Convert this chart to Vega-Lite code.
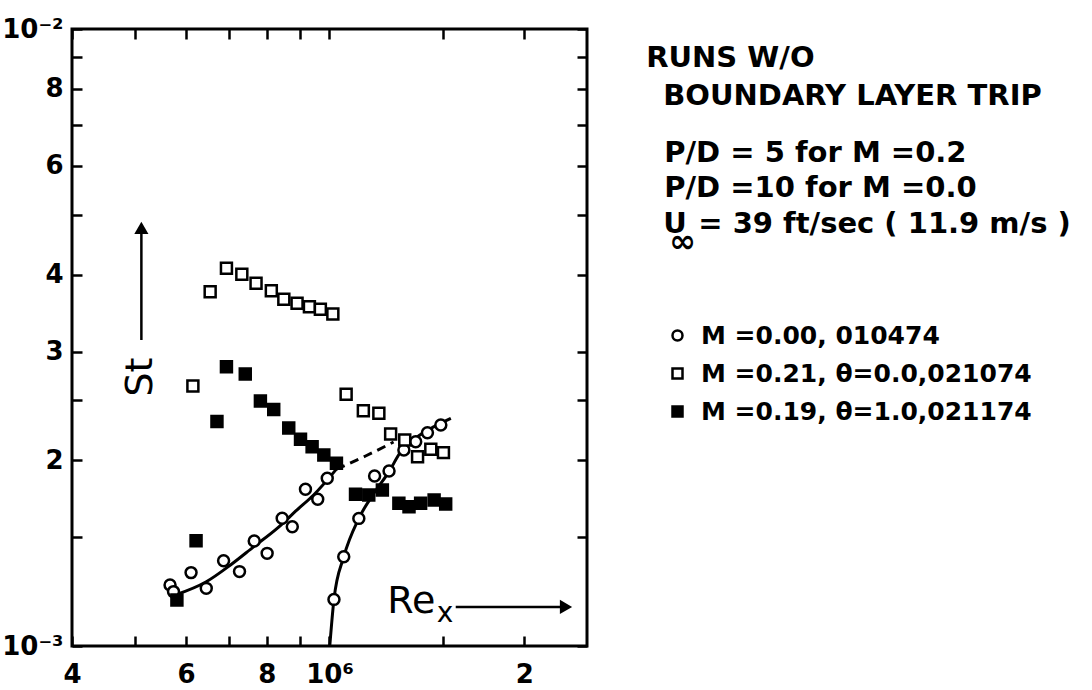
{
  "$schema": "https://vega.github.io/schema/vega-lite/v6.json",
  "width": 515,
  "height": 617,
  "autosize": {"type": "none"},
  "padding": {"left": 72, "top": 29, "right": 505, "bottom": 44},
  "background": "white",
  "config": {
    "view": {"stroke": "black", "strokeWidth": 3, "fill": "white"},
    "font": "DejaVu Sans",
    "axis": {
      "domain": false, "grid": false, "ticks": true,
      "tickColor": "black", "tickWidth": 2.5, "tickSize": -10,
      "labelColor": "black", "labelFont": "DejaVu Sans", "labelFontWeight": "bold", "labelFontSize": 26,
      "labelFlush": false, "labelOverlap": false, "labelBound": false
    },
    "legend": {
      "orient": "none", "legendX": 593, "legendY": 294, "title": null, "padding": 0,
      "labelFont": "DejaVu Sans", "labelFontWeight": "bold", "labelFontSize": 25, "labelColor": "black",
      "labelOffset": 11, "labelLimit": 0, "symbolSize": 100, "symbolStrokeWidth": 2.5, "rowPadding": 12
    }
  },
  "datasets": {
    "pts": [
      {"Re": 567000, "St": 0.001256, "series": "M =0.00, 010474"},
      {"Re": 574000, "St": 0.001225, "series": "M =0.00, 010474"},
      {"Re": 611000, "St": 0.001315, "series": "M =0.00, 010474"},
      {"Re": 645000, "St": 0.00124, "series": "M =0.00, 010474"},
      {"Re": 686000, "St": 0.001375, "series": "M =0.00, 010474"},
      {"Re": 726000, "St": 0.00132, "series": "M =0.00, 010474"},
      {"Re": 765000, "St": 0.00148, "series": "M =0.00, 010474"},
      {"Re": 801000, "St": 0.001413, "series": "M =0.00, 010474"},
      {"Re": 845000, "St": 0.001611, "series": "M =0.00, 010474"},
      {"Re": 876000, "St": 0.001561, "series": "M =0.00, 010474"},
      {"Re": 918000, "St": 0.001795, "series": "M =0.00, 010474"},
      {"Re": 959000, "St": 0.001729, "series": "M =0.00, 010474"},
      {"Re": 992000, "St": 0.00187, "series": "M =0.00, 010474"},
      {"Re": 1016000, "St": 0.00119, "series": "M =0.00, 010474"},
      {"Re": 1052000, "St": 0.001395, "series": "M =0.00, 010474"},
      {"Re": 1110000, "St": 0.00161, "series": "M =0.00, 010474"},
      {"Re": 1174000, "St": 0.001886, "series": "M =0.00, 010474"},
      {"Re": 1236000, "St": 0.001921, "series": "M =0.00, 010474"},
      {"Re": 1303000, "St": 0.002078, "series": "M =0.00, 010474"},
      {"Re": 1359000, "St": 0.002143, "series": "M =0.00, 010474"},
      {"Re": 1417000, "St": 0.002217, "series": "M =0.00, 010474"},
      {"Re": 1486000, "St": 0.002281, "series": "M =0.00, 010474"},
      {"Re": 615000, "St": 0.002638, "series": "M =0.21, θ=0.0,021074"},
      {"Re": 654000, "St": 0.003752, "series": "M =0.21, θ=0.0,021074"},
      {"Re": 693000, "St": 0.004095, "series": "M =0.21, θ=0.0,021074"},
      {"Re": 732000, "St": 0.004004, "series": "M =0.21, θ=0.0,021074"},
      {"Re": 770000, "St": 0.003872, "series": "M =0.21, θ=0.0,021074"},
      {"Re": 813000, "St": 0.003766, "series": "M =0.21, θ=0.0,021074"},
      {"Re": 850000, "St": 0.003647, "series": "M =0.21, θ=0.0,021074"},
      {"Re": 891000, "St": 0.003593, "series": "M =0.21, θ=0.0,021074"},
      {"Re": 931000, "St": 0.003548, "series": "M =0.21, θ=0.0,021074"},
      {"Re": 968000, "St": 0.003513, "series": "M =0.21, θ=0.0,021074"},
      {"Re": 1012000, "St": 0.003452, "series": "M =0.21, θ=0.0,021074"},
      {"Re": 1061000, "St": 0.002558, "series": "M =0.21, θ=0.0,021074"},
      {"Re": 1128000, "St": 0.002406, "series": "M =0.21, θ=0.0,021074"},
      {"Re": 1192000, "St": 0.002383, "series": "M =0.21, θ=0.0,021074"},
      {"Re": 1243000, "St": 0.002206, "series": "M =0.21, θ=0.0,021074"},
      {"Re": 1307000, "St": 0.002157, "series": "M =0.21, θ=0.0,021074"},
      {"Re": 1368000, "St": 0.002027, "series": "M =0.21, θ=0.0,021074"},
      {"Re": 1434000, "St": 0.002084, "series": "M =0.21, θ=0.0,021074"},
      {"Re": 1500000, "St": 0.002058, "series": "M =0.21, θ=0.0,021074"},
      {"Re": 581000, "St": 0.001187, "series": "M =0.19, θ=1.0,021174"},
      {"Re": 622000, "St": 0.001481, "series": "M =0.19, θ=1.0,021174"},
      {"Re": 670000, "St": 0.002312, "series": "M =0.19, θ=1.0,021174"},
      {"Re": 693000, "St": 0.002836, "series": "M =0.19, θ=1.0,021174"},
      {"Re": 741000, "St": 0.00276, "series": "M =0.19, θ=1.0,021174"},
      {"Re": 782000, "St": 0.002495, "series": "M =0.19, θ=1.0,021174"},
      {"Re": 820000, "St": 0.002417, "series": "M =0.19, θ=1.0,021174"},
      {"Re": 865000, "St": 0.002256, "series": "M =0.19, θ=1.0,021174"},
      {"Re": 902000, "St": 0.002163, "series": "M =0.19, θ=1.0,021174"},
      {"Re": 940000, "St": 0.002104, "series": "M =0.19, θ=1.0,021174"},
      {"Re": 980000, "St": 0.00204, "series": "M =0.19, θ=1.0,021174"},
      {"Re": 1025000, "St": 0.001978, "series": "M =0.19, θ=1.0,021174"},
      {"Re": 1097000, "St": 0.001762, "series": "M =0.19, θ=1.0,021174"},
      {"Re": 1150000, "St": 0.001757, "series": "M =0.19, θ=1.0,021174"},
      {"Re": 1207000, "St": 0.00179, "series": "M =0.19, θ=1.0,021174"},
      {"Re": 1280000, "St": 0.001703, "series": "M =0.19, θ=1.0,021174"},
      {"Re": 1327000, "St": 0.001682, "series": "M =0.19, θ=1.0,021174"},
      {"Re": 1383000, "St": 0.001703, "series": "M =0.19, θ=1.0,021174"},
      {"Re": 1451000, "St": 0.001724, "series": "M =0.19, θ=1.0,021174"},
      {"Re": 1512000, "St": 0.001699, "series": "M =0.19, θ=1.0,021174"}
    ],
    "curves": [
      {"curve": "laminar fit", "ord": 1, "Re": 578000, "St": 0.00121},
      {"curve": "laminar fit", "ord": 2, "Re": 645000, "St": 0.001271},
      {"curve": "laminar fit", "ord": 3, "Re": 703000, "St": 0.001353},
      {"curve": "laminar fit", "ord": 4, "Re": 764000, "St": 0.001449},
      {"curve": "laminar fit", "ord": 5, "Re": 830000, "St": 0.001551},
      {"curve": "laminar fit", "ord": 6, "Re": 891000, "St": 0.001662},
      {"curve": "laminar fit", "ord": 7, "Re": 945000, "St": 0.001757},
      {"curve": "laminar fit", "ord": 8, "Re": 1025000, "St": 0.001935},
      {"curve": "laminar extrapolation", "ord": 1, "Re": 1025000, "St": 0.001935},
      {"curve": "laminar extrapolation", "ord": 2, "Re": 1137000, "St": 0.002032},
      {"curve": "laminar extrapolation", "ord": 3, "Re": 1256000, "St": 0.002141},
      {"curve": "transition fit", "ord": 1, "Re": 1001000, "St": 0.001},
      {"curve": "transition fit", "ord": 2, "Re": 1016000, "St": 0.00119},
      {"curve": "transition fit", "ord": 3, "Re": 1052000, "St": 0.001395},
      {"curve": "transition fit", "ord": 4, "Re": 1110000, "St": 0.00161},
      {"curve": "transition fit", "ord": 5, "Re": 1171000, "St": 0.001768},
      {"curve": "transition fit", "ord": 6, "Re": 1236000, "St": 0.001917},
      {"curve": "transition fit", "ord": 7, "Re": 1288000, "St": 0.002063},
      {"curve": "transition fit", "ord": 8, "Re": 1368000, "St": 0.002184},
      {"curve": "transition fit", "ord": 9, "Re": 1451000, "St": 0.002267},
      {"curve": "transition fit", "ord": 10, "Re": 1540000, "St": 0.002339}
    ],
    "arrows": [
      {"arrow": "Re", "Re": 1567000, "St": 0.001157, "Re2": 2279000, "St2": 0.001157},
      {"arrow": "St", "Re": 512000, "St": 0.003133, "Re2": 512000, "St2": 0.004688}
    ],
    "heads": [
      {"arrow": "Re", "Re": 2320000, "St": 0.001157},
      {"arrow": "St", "Re": 512000, "St": 0.00476}
    ],
    "notes": [
      {"Re": 3086000, "St": 0.008687, "label": "RUNS W/O"},
      {"Re": 3279000, "St": 0.00753, "label": "BOUNDARY LAYER TRIP"},
      {"Re": 3291000, "St": 0.006094, "label": "P/D = 5  for M =0.2"},
      {"Re": 3291000, "St": 0.005349, "label": "P/D =10  for M =0.0"},
      {"Re": 3279000, "St": 0.004666, "label": "U"},
      {"Re": 3714000, "St": 0.004666, "label": "= 39 ft/sec ( 11.9 m/s )"}
    ],
    "annot": [
      {"label": "∞", "Re": 3350000, "St": 0.004351},
      {"label": "St", "Re": 512000, "St": 0.002729},
      {"label": "Re", "Re": 1228000, "St": 0.001131},
      {"label": "x", "Re": 1465000, "St": 0.001094}
    ]
  },
  "layer": [
    {
      "data": {"name": "curves"},
      "transform": [{"filter": "datum.curve != 'laminar extrapolation'"}],
      "mark": {"type": "line", "color": "black", "strokeWidth": 3, "interpolate": "monotone"},
      "encoding": {
        "x": {"field": "Re", "type": "quantitative",
              "scale": {"type": "log", "domain": [400000, 2500000], "nice": false},
              "axis": {"orient": "top", "title": null, "labels": false,
                       "values": [400000, 500000, 600000, 700000, 800000, 900000, 1000000, 1500000, 2000000]}},
        "y": {"field": "St", "type": "quantitative",
              "scale": {"type": "log", "domain": [0.001, 0.01], "nice": false},
              "axis": {"orient": "right", "title": null, "labels": false,
                       "values": [0.001, 0.0015, 0.002, 0.0025, 0.003, 0.004, 0.005, 0.006, 0.007, 0.008, 0.009, 0.01]}},
        "detail": {"field": "curve"},
        "order": {"field": "ord"}
      }
    },
    {
      "data": {"name": "curves"},
      "transform": [{"filter": "datum.curve == 'laminar extrapolation'"}],
      "mark": {"type": "line", "color": "black", "strokeWidth": 3, "strokeDash": [9, 6], "interpolate": "monotone"},
      "encoding": {
        "x": {"field": "Re", "type": "quantitative", "axis": null},
        "y": {"field": "St", "type": "quantitative", "axis": null},
        "order": {"field": "ord"}
      }
    },
    {
      "data": {"name": "pts"},
      "mark": {"type": "point", "filled": true, "strokeWidth": 2.5, "size": 120, "opacity": 1},
      "encoding": {
        "x": {"field": "Re", "type": "quantitative",
              "axis": {"orient": "bottom", "title": null, "labelPadding": 25, "labelBaseline": "top",
                       "values": [400000, 500000, 600000, 700000, 800000, 900000, 1000000, 1500000, 2000000],
                       "labelExpr": "datum.value == 400000 ? '4' : datum.value == 600000 ? '6' : datum.value == 800000 ? '8' : datum.value == 1000000 ? '10⁶' : datum.value == 2000000 ? '2' : ''"}},
        "y": {"field": "St", "type": "quantitative",
              "axis": {"orient": "left", "title": null, "labelPadding": 19,
                       "values": [0.001, 0.0015, 0.002, 0.0025, 0.003, 0.004, 0.005, 0.006, 0.007, 0.008, 0.009, 0.01],
                       "labelExpr": "datum.value == 0.001 ? '10⁻³' : datum.value == 0.002 ? '2' : datum.value == 0.003 ? '3' : datum.value == 0.004 ? '4' : datum.value == 0.006 ? '6' : datum.value == 0.008 ? '8' : datum.value == 0.01 ? '10⁻²' : ''"}},
        "shape": {"field": "series", "type": "nominal", "title": null,
                  "scale": {"domain": ["M =0.00, 010474", "M =0.21, θ=0.0,021074", "M =0.19, θ=1.0,021174"], "range": ["circle", "square", "square"]}},
        "fill": {"field": "series", "type": "nominal", "title": null,
                 "scale": {"domain": ["M =0.00, 010474", "M =0.21, θ=0.0,021074", "M =0.19, θ=1.0,021174"], "range": ["white", "white", "black"]}},
        "stroke": {"field": "series", "type": "nominal", "title": null,
                   "scale": {"domain": ["M =0.00, 010474", "M =0.21, θ=0.0,021074", "M =0.19, θ=1.0,021174"], "range": ["black", "black", "black"]}}
      }
    },
    {
      "data": {"name": "arrows"},
      "mark": {"type": "rule", "color": "black", "strokeWidth": 2.5},
      "encoding": {
        "x": {"field": "Re", "type": "quantitative", "axis": null},
        "x2": {"field": "Re2"},
        "y": {"field": "St", "type": "quantitative", "axis": null},
        "y2": {"field": "St2"}
      }
    },
    {
      "data": {"name": "heads"},
      "transform": [{"filter": "datum.arrow == 'Re'"}],
      "mark": {"type": "point", "shape": "triangle-right", "filled": true, "color": "black", "size": 200, "opacity": 1},
      "encoding": {
        "x": {"field": "Re", "type": "quantitative", "axis": null},
        "y": {"field": "St", "type": "quantitative", "axis": null}
      }
    },
    {
      "data": {"name": "heads"},
      "transform": [{"filter": "datum.arrow == 'St'"}],
      "mark": {"type": "point", "shape": "triangle-up", "filled": true, "color": "black", "size": 200, "opacity": 1},
      "encoding": {
        "x": {"field": "Re", "type": "quantitative", "axis": null},
        "y": {"field": "St", "type": "quantitative", "axis": null}
      }
    },
    {
      "data": {"name": "notes"},
      "mark": {"type": "text", "align": "left", "baseline": "alphabetic", "font": "DejaVu Sans", "fontWeight": "bold", "fontSize": 29, "color": "black"},
      "encoding": {
        "x": {"field": "Re", "type": "quantitative", "axis": null},
        "y": {"field": "St", "type": "quantitative", "axis": null},
        "text": {"field": "label"}
      }
    },
    {
      "data": {"name": "annot"},
      "transform": [{"filter": "datum.label == '∞'"}],
      "mark": {"type": "text", "align": "left", "baseline": "alphabetic", "font": "DejaVu Sans", "fontWeight": "bold", "fontSize": 32, "color": "black"},
      "encoding": {
        "x": {"field": "Re", "type": "quantitative", "axis": null},
        "y": {"field": "St", "type": "quantitative", "axis": null},
        "text": {"field": "label"}
      }
    },
    {
      "data": {"name": "annot"},
      "transform": [{"filter": "datum.label == 'St'"}],
      "mark": {"type": "text", "angle": 270, "align": "center", "baseline": "middle", "font": "DejaVu Sans", "fontSize": 38, "color": "black"},
      "encoding": {
        "x": {"field": "Re", "type": "quantitative", "axis": null},
        "y": {"field": "St", "type": "quantitative", "axis": null},
        "text": {"field": "label"}
      }
    },
    {
      "data": {"name": "annot"},
      "transform": [{"filter": "datum.label == 'Re'"}],
      "mark": {"type": "text", "align": "left", "baseline": "alphabetic", "font": "DejaVu Sans", "fontSize": 38, "color": "black"},
      "encoding": {
        "x": {"field": "Re", "type": "quantitative", "axis": null},
        "y": {"field": "St", "type": "quantitative", "axis": null},
        "text": {"field": "label"}
      }
    },
    {
      "data": {"name": "annot"},
      "transform": [{"filter": "datum.label == 'x'"}],
      "mark": {"type": "text", "align": "left", "baseline": "alphabetic", "font": "DejaVu Sans", "fontSize": 28, "color": "black"},
      "encoding": {
        "x": {"field": "Re", "type": "quantitative", "axis": null},
        "y": {"field": "St", "type": "quantitative", "axis": null},
        "text": {"field": "label"}
      }
    }
  ],
  "resolve": {"axis": {"x": "independent", "y": "independent"}}
}
